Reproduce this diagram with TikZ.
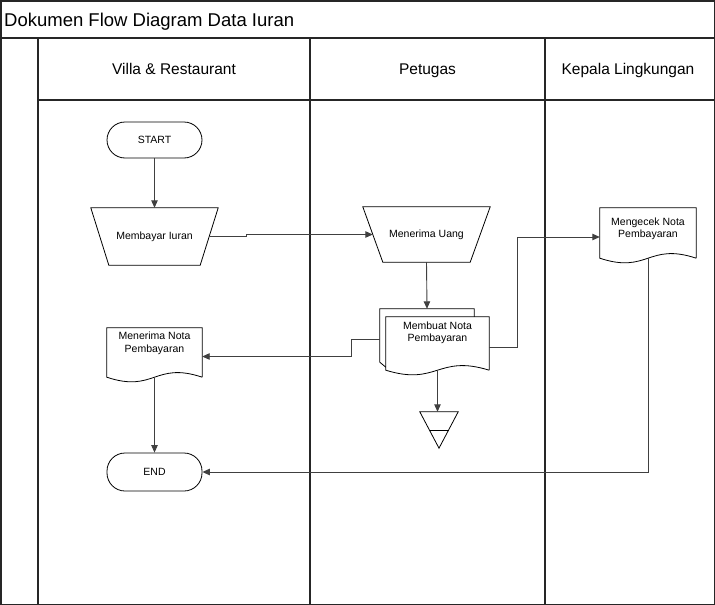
\documentclass[tikz,border=0pt]{standalone}
\usepackage{fontspec}
\setmainfont{Liberation Sans}
\usetikzlibrary{calc,arrows.meta}
\tikzset{
  lane/.style={line width=1.5pt, draw=black!85},
  shp/.style={line width=0.8pt, draw=black},
  geo/.style={draw=none, inner sep=0pt},
  term/.style={shp, draw, rounded corners=18pt, minimum width=95pt, inner sep=0pt},
  hdr/.style={anchor=base, font=\fontsize{15.5}{18}\selectfont},
  con/.style={line width=0.9pt, draw=black!75, -{Triangle[length=7.5pt,width=6.5pt]}}
}
\newcommand\docpath[1]{\draw[shp] (#1.south east) -- (#1.north east) -- (#1.north west) -- (#1.south west) .. controls ($(#1.south)+(0,16)$) and ($(#1.south)+(0,-16)$) .. (#1.south east);}
\begin{document}
\begin{tikzpicture}[x=1pt,y=-1pt,font=\fontsize{10.5}{12.5}\selectfont]
\useasboundingbox (0,0) rectangle (715,605);
% frame and lanes
\draw[lane] (0.75,0.75) rectangle (714.25,604.25);
\draw[lane] (0.75,38) -- (714.25,38);
\draw[lane] (38,38) -- (38,604.25);
\draw[lane] (310,38) -- (310,604.25);
\draw[lane] (545,38) -- (545,604.25);
\draw[lane] (38,100) -- (714.25,100);
\node[anchor=base west, font=\fontsize{18.5}{20}\selectfont, inner sep=0pt] (title) at (4,26) {Dokumen Flow Diagram Data Iuran};
\node[hdr] (h1) at (174,74) {Villa \& Restaurant};
\node[hdr] (h2) at (427.5,74) {Petugas};
\node[hdr] (h3) at (628,74) {Kepala Lingkungan};
% START
\node[term, minimum height=36pt] (start) at (154.5,140) {START};
% Membayar Iuran
\node[geo, minimum width=127pt, minimum height=57pt] (bayar) at (154.5,236.5) {Membayar Iuran};
\draw[shp] (bayar.north west) -- (bayar.north east) -- ($(bayar.south east)+(-18,0)$) -- ($(bayar.south west)+(18,0)$) -- cycle;
% Menerima Uang
\node[geo, minimum width=127pt, minimum height=55pt] (uang) at (426.5,234.5) {Menerima Uang};
\draw[shp] (uang.north west) -- (uang.north east) -- ($(uang.south east)+(-20,0)$) -- ($(uang.south west)+(20,0)$) -- cycle;
% Membuat Nota (multi-document)
\node[geo, minimum width=103pt, minimum height=53pt] (nota) at (437.5,343.5) {};
\draw[shp] ($(nota.north east)+(-15,0)$) -- ($(nota.north east)+(-15,-8)$) -- ($(nota.north west)+(-6,-8)$) -- ($(nota.south west)+(-6,-8)$) -- ($(nota.south west)+(0,-3)$);
\docpath{nota}
\node[geo, align=center] (notat) at ($(nota.center)+(0,-10.5)$) {Membuat Nota\\Pembayaran};
% storage triangle
\node[geo, minimum width=38pt, minimum height=36pt] (tri) at (439,430) {};
\draw[shp] (tri.north west) -- (tri.north east) -- (tri.south) -- cycle;
\draw[shp] ($(tri.center)+(-9.5,0)$) -- ($(tri.center)+(9.5,0)$);
% Menerima Nota
\node[geo, minimum width=95pt, minimum height=49pt] (mnota) at (154.5,352.5) {};
\docpath{mnota}
\node[geo, align=center] (mnotat) at ($(mnota.center)+(0,-9)$) {Menerima Nota\\Pembayaran};
% END
\node[term, minimum height=38pt] (stop) at (154.5,472) {END};
% Mengecek Nota
\node[geo, minimum width=96pt, minimum height=50pt] (cek) at (648,233) {};
\docpath{cek}
\node[geo, align=center] (cekt) at ($(cek.center)+(0,-4)$) {Mengecek Nota\\Pembayaran};
% connectors
\draw[con] (start.south) -- (bayar.north);
\draw[con] ($(bayar.east)+(-9,0)$) -- ++(37,0) |- ($(uang.west)+(10,0)$);
\draw[con] (uang.south) -- ($(nota.north)+(-10.5,-8)$);
\draw[con] (nota.south) -- (nota.south |- tri.north);
\draw[con] ($(nota.west)+(-6,-4.5)$) -- ++(-28,0) |- ($(mnota.east)+(0,4)$);
\draw[con] ($(nota.east)+(0,3.5)$) -- ++(28,0) |- ($(cek.west)+(0,4)$);
\draw[con] (mnota.south) -- (stop.north);
\draw[con] (cek.south) |- (stop.east);
\end{tikzpicture}
\end{document}
